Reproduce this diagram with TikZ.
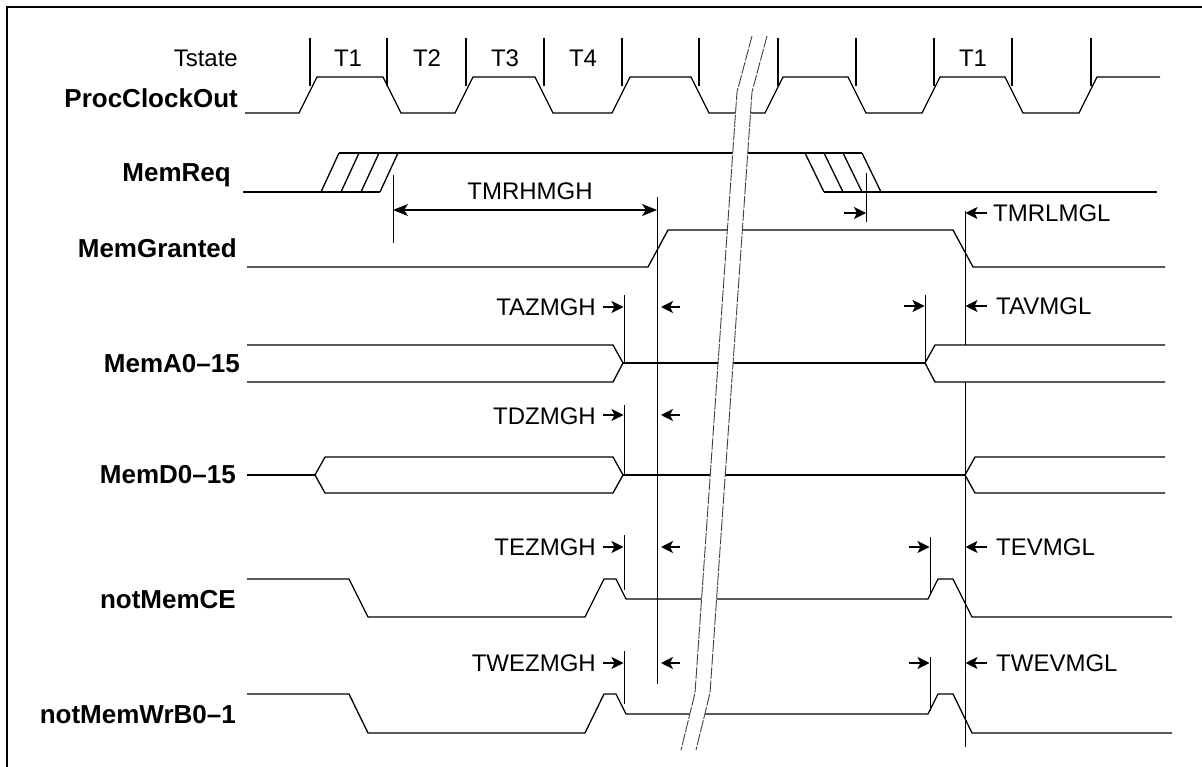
\documentclass[tikz,border=0pt]{standalone}
\usepackage{fontspec}
\setmainfont{Liberation Sans}
\usetikzlibrary{arrows.meta}
\begin{document}
\begin{tikzpicture}[x=1pt,y=-1pt,
  sig/.style={line width=1.3pt, line join=miter},
  tickmark/.style={line width=1.6pt},
  ext/.style={line width=1pt},
  brk/.style={line width=0.9pt, black!75, dash pattern=on 12pt off 1.5pt},
  lbl/.style={font=\fontsize{26}{30}\selectfont\bfseries, anchor=base east, inner sep=0},
  txt/.style={font=\fontsize{24}{28}\selectfont, inner sep=0},
  darr/.style={line width=1.6pt, -{Stealth[length=12pt,width=12pt,inset=3pt]}},
  dimarr/.style={line width=1.2pt, {Stealth[length=15pt,width=12pt,inset=4pt]}-{Stealth[length=15pt,width=12pt,inset=4pt]}},
]
\useasboundingbox (0,0) rectangle (1202,767);
\fill[white] (0,0) rectangle (1202,767);
\draw[line width=1.8pt] (7,770) -- (7,7) -- (1210,7);

% signal labels
\node[lbl, font=\fontsize{24}{28}\selectfont] (ts) at (238,67) {Tstate};
\node[lbl] (pco) at (238,108) {ProcClockOut};
\node[lbl] (mreq) at (231,182) {MemReq};
\node[lbl] (mg) at (237,258) {MemGranted};
\node[lbl] (ma) at (240,372) {MemA0--15};
\node[lbl] (md) at (236,483) {MemD0--15};
\node[lbl] (ce) at (236,608) {notMemCE};
\node[lbl] (wr) at (236,723) {notMemWrB0--1};

% T state labels
\node[txt, anchor=base] (t1) at (348,66.7) {T1};
\node[txt, anchor=base] (t2) at (427,66.7) {T2};
\node[txt, anchor=base] (t3) at (505,66.7) {T3};
\node[txt, anchor=base] (t4) at (583,66.7) {T4};
\node[txt, anchor=base] (t1b) at (973,66.7) {T1};

% ticks
\foreach \x in {310,387,466,544,622,699,778,856,934,1012,1091}
  \draw[tickmark] (\x,38) -- (\x,86);

% clock
\draw[sig] (245,113) -- (299,113) -- (317,77) -- (383,77) -- (401,113) -- (455,113) -- (473,77) -- (535,77) -- (553,113) -- (612,113) -- (630,77) -- (691,77) -- (709,113) -- (765,113) -- (783,77) -- (848,77) -- (866,113) -- (922,113) -- (940,77) -- (1005,77) -- (1023,113) -- (1079,113) -- (1097,77) -- (1160,77);

% MemReq
\draw[sig] (243,192) -- (380,192);
\foreach \b in {321,341,361,380} \draw[sig] (\b,192) -- (\b+18,153);
\draw[sig] (339,153) -- (862,153);
\foreach \t in {805,824,843,862} \draw[sig] (\t,153) -- (\t+19,192);
\draw[sig] (824,192) -- (1157,192);

% TMRHMGH
\draw[ext] (393,175) -- (393,243);
\draw[ext] (657,197) -- (657,684);
\draw[dimarr] (393,210) -- (657,210);
\node[txt, anchor=base] (tmrh) at (530,200) {TMRHMGH};

% MemGranted
\draw[sig] (247,267) -- (648,267) -- (668,230) -- (953,230) -- (973,267) -- (1165,267);

% TMRLMGL
\draw[ext] (866,173) -- (866,222);
\draw[darr] (844,213) -- (866,213);
\draw[ext] (965,211) -- (965,345);
\draw[ext] (965,382) -- (965,747);
\draw[darr] (987,213) -- (965.5,213);
\node[txt, anchor=base west] (tmrl) at (993,222) {TMRLMGL};

% MemA
\draw[sig] (247,345) -- (613,345) -- (623,363) -- (613,382) -- (247,382);
\draw[sig] (623,363) -- (925,363);
\draw[sig] (1165,345) -- (935,345) -- (925,363) -- (935,382) -- (1165,382);
\draw[ext] (624,295) -- (624,363);
\draw[darr] (603,307) -- (623.5,307);
\draw[darr] (680,307) -- (661,307);
\node[txt, anchor=base east] (taz) at (596,315.6) {TAZMGH};
\draw[ext] (925,295) -- (925,363);
\draw[darr] (904,306) -- (924.5,306);
\draw[darr] (987,306) -- (965.5,306);
\node[txt, anchor=base west] (tav) at (996,315) {TAVMGL};

% MemD
\draw[sig] (247,475) -- (315,475);
\draw[sig] (315,475) -- (325,457) -- (613,457) -- (623,475) -- (613,493) -- (325,493) -- cycle;
\draw[sig] (623,475) -- (965,475);
\draw[sig] (1165,457) -- (975,457) -- (965,475) -- (975,493) -- (1165,493);
\draw[ext] (624,405) -- (624,475);
\draw[darr] (603,415) -- (623.5,415);
\draw[darr] (680,415) -- (661,415);
\node[txt, anchor=base east] (tdz) at (596,424.6) {TDZMGH};

% notMemCE
\draw[sig] (247,579) -- (349,579) -- (368,617) -- (585,617) -- (604,579) -- (616,579) -- (626,599) -- (928,599) -- (938,579) -- (953,579) -- (972,617) -- (1172,617);
\draw[ext] (624,535) -- (624,590);
\draw[darr] (603,547) -- (623.5,547);
\draw[darr] (680,547) -- (661,547);
\node[txt, anchor=base east] (tez) at (596,555.6) {TEZMGH};
\draw[ext] (930,537) -- (930,595);
\draw[darr] (909,547) -- (929.5,547);
\draw[darr] (987,547) -- (965.5,547);
\node[txt, anchor=base west] (tev) at (996,555.6) {TEVMGL};

% notMemWrB
\draw[sig] (247,694) -- (349,694) -- (368,733) -- (585,733) -- (604,694) -- (616,694) -- (626,714) -- (928,714) -- (938,694) -- (953,694) -- (972,733) -- (1172,733);
\draw[ext] (624,651) -- (624,704);
\draw[darr] (603,663) -- (623.5,663);
\draw[darr] (680,663) -- (661,663);
\node[txt, anchor=base east] (twez) at (596,671.6) {TWEZMGH};
\draw[ext] (930,657) -- (930,711);
\draw[darr] (909,663) -- (929.5,663);
\draw[darr] (987,663) -- (965.5,663);
\node[txt, anchor=base west] (twev) at (996,671.6) {TWEVMGL};

% break
\fill[white] (752,36) -- (767,36) -- (752,92) -- (710,693) -- (696,750) -- (681,750) -- (695,693) -- (737,92) -- cycle;
\draw[brk] (752,36) -- (737,92) -- (695,693) -- (681,750);
\draw[brk] (767,36) -- (752,92) -- (710,693) -- (696,750);
\end{tikzpicture}
\end{document}
